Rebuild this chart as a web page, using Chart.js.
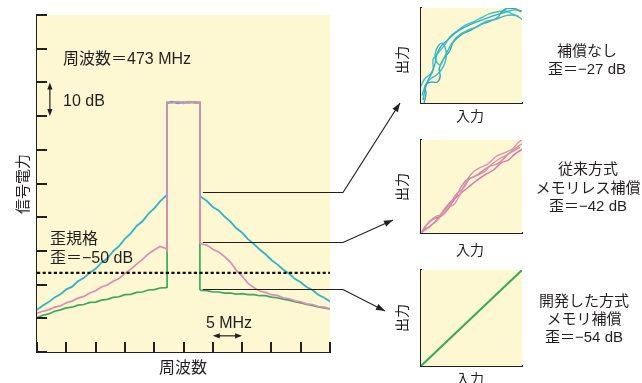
<!DOCTYPE html>
<html><head><meta charset="utf-8">
<script src="https://cdn.jsdelivr.net/npm/chart.js@4.4.1/dist/chart.umd.min.js"></script>
<style>
html,body{margin:0;padding:0;background:#fff;}
#wrap{position:relative;width:642px;height:383px;overflow:hidden;font-family:"Liberation Sans","Noto Sans CJK JP",sans-serif;color:#231f20;}
canvas{position:absolute;left:0;top:0;}
.t{position:absolute;white-space:nowrap;line-height:1;}
.l{transform:translateY(-50%);}
.c{transform:translate(-50%,-50%);text-align:center;}
.r{transform:translate(-50%,-50%) rotate(-90deg);}
.m16{font-size:16px;}
.m15{font-size:15px;}
.m14{font-size:14px;}
</style></head><body>
<div id="wrap">
<canvas id="main" width="642" height="383"></canvas>
<canvas id="s1" width="642" height="383"></canvas>
<canvas id="s2" width="642" height="383"></canvas>
<canvas id="s3" width="642" height="383"></canvas>

<div class="t l m16" style="left:63px;top:59px">周波数＝473 MHz</div>
<div class="t l m16" style="left:63px;top:101px">10 dB</div>
<div class="t l m16" style="left:50px;top:239px">歪規格</div>
<div class="t l m16" style="left:50px;top:258px">歪＝−50 dB</div>
<div class="t c m16" style="left:229px;top:323px">5 MHz</div>
<div class="t c m16" style="left:183px;top:368px">周波数</div>
<div class="t r m15" style="left:22px;top:184px">信号電力</div>

<div class="t r m14" style="left:402px;top:60px">出力</div>
<div class="t c m14" style="left:470px;top:116px">入力</div>
<div class="t r m14" style="left:402px;top:187px">出力</div>
<div class="t c m14" style="left:470px;top:250px">入力</div>
<div class="t r m14" style="left:402px;top:318px">出力</div>
<div class="t c m14" style="left:470px;top:379px">入力</div>

<div class="t c m15" style="left:587px;top:50px">補償なし</div>
<div class="t c m15" style="left:587px;top:68px">歪＝−27 dB</div>
<div class="t c m15" style="left:588px;top:168px">従来方式</div>
<div class="t c m15" style="left:588px;top:187px">メモリレス補償</div>
<div class="t c m15" style="left:588px;top:205px">歪＝−42 dB</div>
<div class="t c m15" style="left:584px;top:300px">開発した方式</div>
<div class="t c m15" style="left:584px;top:318px">メモリ補償</div>
<div class="t c m15" style="left:584px;top:336px">歪＝−54 dB</div>
</div>
<script>
// ---- spectrum data (x: MHz offset across 50 MHz span, y: relative dB, 10 dB per tick) ----
const freqMHz = [0,1,2,3,4,5,6,7,8,9,10,11,12,13,14,15,16,17,18,19,20,21,22,22.2,22.2,23,24,25,26,27,27.8,27.8,28,29,30,31,32,33,34,35,36,37,38,39,40,41,42,43,44,45,46,47,48,49,50];
const noCompensation = [12.5,13.8,14.8,16.2,17.1,18.6,19.4,21.0,22.0,23.5,24.7,26.5,27.8,29.9,31.4,33.6,35.2,37.4,38.8,41.0,42.6,44.7,46.3,46.8,74.0,74.3,73.8,74.1,73.9,74.2,74.0,46.6,46.0,44.8,43.0,42.0,40.2,38.7,36.8,35.4,33.5,32.1,30.4,29.0,27.3,26.0,24.5,23.3,21.7,20.7,19.3,18.4,17.0,16.1,15.0];
const memorylessComp = [11.5,12.1,12.5,13.3,13.7,14.6,15.1,16.0,16.5,17.5,18.2,19.3,19.9,21.0,21.8,23.3,24.5,26.1,27.5,29.1,30.3,31.3,30.7,30.2,74.2,73.9,74.3,73.8,74.2,74.0,74.1,32.4,32.1,31.7,30.5,29.7,28.3,26.7,24.3,22.5,20.4,19.1,18.1,17.7,17.0,16.8,16.1,15.8,15.2,14.9,14.3,14.1,13.5,13.3,12.8];
const memoryComp = [10.2,10.9,11.3,12.1,12.5,13.1,13.3,13.9,14.1,14.7,14.8,15.4,15.6,16.2,16.4,17.0,17.1,17.7,17.8,18.4,18.5,19.0,19.1,19.2,73.8,74.1,74.2,73.9,74.3,73.9,73.9,18.6,18.3,18.2,17.8,17.8,17.5,17.5,17.2,17.3,17.0,17.0,16.7,16.7,16.3,16.1,15.7,15.4,14.9,14.6,14.1,13.8,13.4,13.1,12.8];
const specLimitFreq = [0, 50];
const specLimitLevel = [23.5, 23.5];
const calloutFreq = 28.3;
const calloutLevels = [47.5, 32.6, 18.7];

// ---- input/output (AM-AM) traces, normalised 0..1 ----
const ioNoComp = [
 [[0.02,0.03],[0.04,0.14],[0.07,0.24],[0.11,0.32],[0.14,0.42],[0.16,0.52],[0.20,0.60],[0.26,0.66],[0.33,0.73],[0.42,0.79],[0.52,0.84],[0.62,0.88],[0.72,0.92],[0.82,0.95],[0.92,0.98],[1.0,0.97]],
 [[0.01,0.08],[0.05,0.20],[0.10,0.26],[0.16,0.30],[0.22,0.38],[0.25,0.48],[0.24,0.58],[0.21,0.63],[0.17,0.60],[0.14,0.52],[0.15,0.44],[0.19,0.40],[0.24,0.50],[0.30,0.62],[0.36,0.70],[0.45,0.76],[0.55,0.80],[0.64,0.86],[0.74,0.88],[0.84,0.92],[0.94,0.92],[1.0,0.88]],
 [[0.03,0.0],[0.05,0.10],[0.04,0.18],[0.09,0.22],[0.16,0.22],[0.19,0.28],[0.18,0.36],[0.22,0.46],[0.28,0.54],[0.32,0.64],[0.40,0.72],[0.48,0.76],[0.58,0.82],[0.68,0.86],[0.76,0.90],[0.80,0.96],[0.86,1.0],[0.94,0.99],[0.99,0.96]],
 [[0.0,0.18],[0.04,0.26],[0.09,0.30],[0.12,0.36],[0.12,0.46],[0.18,0.54],[0.24,0.62],[0.29,0.70],[0.36,0.76],[0.44,0.82],[0.53,0.86],[0.60,0.90],[0.68,0.94],[0.76,0.96],[0.84,0.97],[0.90,0.94],[0.97,0.91]]
];
const ioMemoryless = [
 [[0,0],[0.08,0.12],[0.15,0.18],[0.22,0.20],[0.28,0.30],[0.35,0.42],[0.42,0.48],[0.48,0.58],[0.55,0.62],[0.63,0.66],[0.70,0.74],[0.78,0.80],[0.85,0.84],[0.92,0.90],[1,0.96]],
 [[0,0],[0.06,0.05],[0.14,0.12],[0.22,0.24],[0.28,0.32],[0.34,0.38],[0.40,0.50],[0.46,0.58],[0.52,0.60],[0.60,0.66],[0.68,0.72],[0.75,0.74],[0.82,0.80],[0.88,0.86],[0.98,0.92]],
 [[0.02,0.03],[0.10,0.08],[0.18,0.16],[0.26,0.28],[0.32,0.30],[0.38,0.40],[0.45,0.56],[0.52,0.66],[0.58,0.70],[0.66,0.74],[0.74,0.82],[0.82,0.86],[0.90,0.90],[0.97,0.98],[1.0,1.0]],
 [[0,0],[0.05,0.08],[0.12,0.15],[0.20,0.18],[0.27,0.26],[0.33,0.36],[0.41,0.44],[0.50,0.52],[0.57,0.58],[0.64,0.63],[0.72,0.68],[0.80,0.76],[0.86,0.78],[0.92,0.84],[1,0.90]]
];
const ioMemory = [[[0,0],[1,1]]];

// ---- styles / layout ----
const BG = '#fdf7d2';
const CYAN = '#2fb4c8', PINK = '#de8cb6', GREEN = '#3aaa5a';
const INK = '#231f20';

function pts(xs, ys){ return xs.map((x,i)=>({x:x, y:ys[i]})); }
function pairPts(arr){ return arr.map(p=>({x:p[0], y:p[1]})); }

function arrowHead(ctx, x0, y0, x1, y1, len, half){
  const a = Math.atan2(y1-y0, x1-x0);
  ctx.beginPath();
  ctx.moveTo(x1, y1);
  ctx.lineTo(x1 - len*Math.cos(a) + half*Math.sin(a), y1 - len*Math.sin(a) - half*Math.cos(a));
  ctx.lineTo(x1 - len*Math.cos(a) - half*Math.sin(a), y1 - len*Math.sin(a) + half*Math.cos(a));
  ctx.closePath();
  ctx.fill();
}

const bgPlugin = {
  id: 'bgFill',
  beforeDatasetsDraw(chart){
    const {ctx, chartArea:a} = chart;
    ctx.save(); ctx.fillStyle = BG; ctx.fillRect(a.left, a.top, a.right-a.left, a.bottom-a.top); ctx.restore();
  }
};

// bends and arrow tips of the three call-out lines (page pixels)
const calloutBendX = 343;
const calloutTips = [[400,103],[393,220],[385,311]];

const mainDecor = {
  id: 'mainDecor',
  afterDraw(chart){
    const {ctx, chartArea:a, scales:{x, y}} = chart;
    ctx.save();
    ctx.strokeStyle = INK; ctx.fillStyle = INK; ctx.lineWidth = 2;
    // inward ticks
    y.ticks.forEach(t => { const py = Math.round(y.getPixelForValue(t.value)); ctx.beginPath(); ctx.moveTo(a.left, py); ctx.lineTo(a.left+10, py); ctx.stroke(); });
    x.ticks.forEach(t => { const px = Math.round(x.getPixelForValue(t.value)); ctx.beginPath(); ctx.moveTo(px, a.bottom); ctx.lineTo(px, a.bottom-10); ctx.stroke(); });
    // 10 dB double arrow
    ctx.lineWidth = 1.2;
    const ax = x.getPixelForValue(2.2), ay0 = y.getPixelForValue(80), ay1 = y.getPixelForValue(70);
    ctx.beginPath(); ctx.moveTo(ax, ay0+4); ctx.lineTo(ax, ay1-4); ctx.stroke();
    arrowHead(ctx, ax, ay1, ax, ay0, 7, 2.6);
    arrowHead(ctx, ax, ay0, ax, ay1, 7, 2.6);
    // 5 MHz double arrow
    const by = y.getPixelForValue(4.8), bx0 = x.getPixelForValue(30), bx1 = x.getPixelForValue(35);
    ctx.beginPath(); ctx.moveTo(bx0+4, by); ctx.lineTo(bx1-4, by); ctx.stroke();
    arrowHead(ctx, bx1, by, bx0, by, 7, 2.6);
    arrowHead(ctx, bx0, by, bx1, by, 7, 2.6);
    // call-out lines
    ctx.lineWidth = 1.2;
    calloutLevels.forEach((lv, i) => {
      const sx = x.getPixelForValue(calloutFreq), sy = Math.round(y.getPixelForValue(lv)) + 0.5;
      const [tx, ty] = calloutTips[i];
      ctx.beginPath(); ctx.moveTo(sx, sy); ctx.lineTo(calloutBendX, sy); ctx.lineTo(tx, ty); ctx.stroke();
      arrowHead(ctx, calloutBendX, sy, tx, ty, 9, 3.2);
    });
    ctx.restore();
  }
};

function axisOpts(min, max, step){
  return { type:'linear', min:min, max:max, ticks:{ display:false, stepSize: step },
           grid:{ display:false, drawTicks:false }, border:{ display:true, color:INK, width:2 } };
}

new Chart(document.getElementById('main'), {
  type: 'line',
  data: {
    datasets: [
      { label:'歪規格', data: pts(specLimitFreq, specLimitLevel), borderColor:'#111', borderWidth:2.2, borderDash:[3.2,2.4], order:0 },
      { label:'従来方式 メモリレス補償', data: pts(freqMHz, memorylessComp), borderColor:PINK, borderWidth:1.7, order:1 },
      { label:'補償なし', data: pts(freqMHz, noCompensation), borderColor:CYAN, borderWidth:1.8, order:2 },
      { label:'開発した方式 メモリ補償', data: pts(freqMHz, memoryComp), borderColor:GREEN, borderWidth:1.7, order:3 }
    ]
  },
  options: {
    responsive:false, animation:false, devicePixelRatio:1,
    layout:{ padding:{ left:37, top:15, right:312, bottom:31 } },
    elements:{ point:{ radius:0 }, line:{ tension:0 } },
    plugins:{ legend:{ display:false }, tooltip:{ enabled:false } },
    scales:{ x: axisOpts(0, 50, 5), y: axisOpts(0, 100, 10) }
  },
  plugins:[bgPlugin, mainDecor]
});

function smallChart(id, traces, colors, pad, width, tension){
  new Chart(document.getElementById(id), {
    type:'scatter',
    data:{ datasets: traces.map((t,i)=>({ data: pairPts(t), showLine:true, borderColor: colors[i % colors.length], borderWidth: width, pointRadius:0, tension:tension })) },
    options:{
      responsive:false, animation:false, devicePixelRatio:1,
      layout:{ padding: pad },
      plugins:{ legend:{ display:false }, tooltip:{ enabled:false } },
      scales:{ x: axisOpts(0, 1, 0.5), y: axisOpts(0, 1, 0.5) }
    },
    plugins:[bgPlugin]
  });
}
smallChart('s1', ioNoComp, ['#2fb0c6','#3bbccd','#2aa8c0','#45c0d0'], {left:421, top:8, right:120, bottom:280}, 1.4, 0.3);
smallChart('s2', ioMemoryless, ['#c99aa6','#dc7fb0','#d893b0','#e070ac'], {left:421, top:140, right:120, bottom:150}, 1.4, 0.35);
smallChart('s3', ioMemory, [GREEN], {left:421, top:270, right:120, bottom:17}, 2, 0);
</script>
</body></html>
